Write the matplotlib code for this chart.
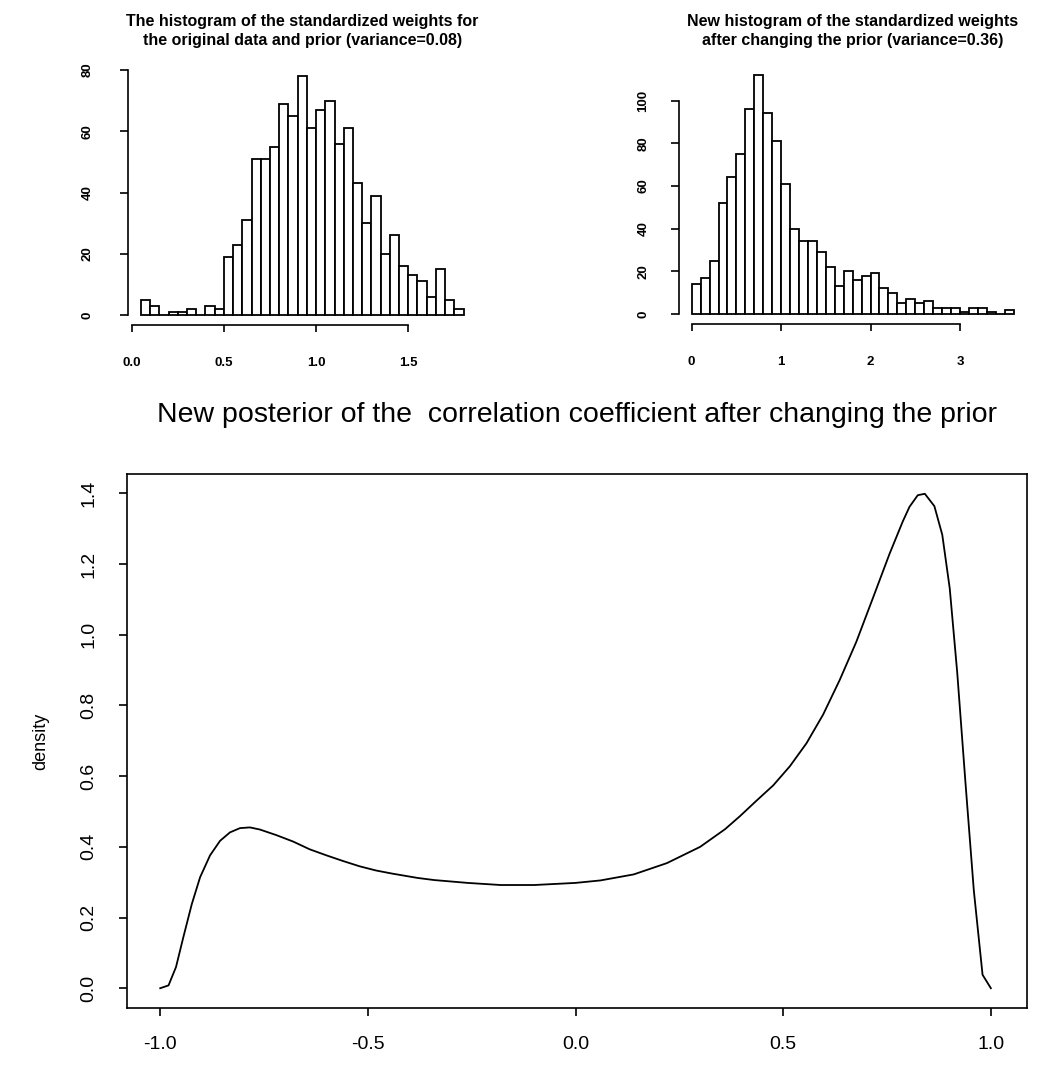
import numpy as np
import matplotlib
matplotlib.use("Agg")
import matplotlib.pyplot as plt

plt.rcParams['font.family'] = ['Liberation Sans', 'DejaVu Sans']

# histogram 1: standardized weights, original prior
w1_breaks = np.round(np.arange(0.05, 1.8001, 0.05), 2)
w1_counts = [5, 3, 0, 1, 1, 2, 0, 3, 2, 19, 23, 31, 51, 51, 55, 69, 65, 78, 61,
             67, 70, 56, 61, 43, 30, 39, 20, 26, 16, 13, 11, 6, 15, 5, 2]
w1_xticks = [0.0, 0.5, 1.0, 1.5]
w1_yticks = [0, 20, 40, 60, 80]

# histogram 2: standardized weights, new prior
w2_breaks = np.round(np.arange(0.0, 3.6001, 0.1), 1)
w2_counts = [14, 17, 25, 52, 64, 75, 96, 112, 94, 81, 61, 40, 34, 34, 29, 22, 13, 20,
             16, 18, 19, 12, 10, 5, 7, 5, 6, 3, 3, 3, 1, 3, 3, 1, 0, 2]
w2_xticks = [0, 1, 2, 3]
w2_yticks = [0, 20, 40, 60, 80, 100]

# posterior density of the correlation coefficient
rho = [-1.0, -0.98, -0.962, -0.944, -0.924, -0.904, -0.88, -0.856, -0.832, -0.808,
       -0.784, -0.76, -0.72, -0.68, -0.64, -0.60, -0.56, -0.52, -0.48, -0.44,
       -0.38, -0.34, -0.26, -0.18, -0.10, 0.0, 0.06, 0.14, 0.22, 0.30,
       0.36, 0.396, 0.436, 0.476, 0.516, 0.556, 0.596, 0.636, 0.676, 0.716,
       0.756, 0.788, 0.804, 0.824, 0.841, 0.864, 0.883, 0.901, 0.919, 0.939,
       0.959, 0.98, 1.0]
dens = [0.0, 0.008, 0.06, 0.146, 0.238, 0.314, 0.376, 0.417, 0.441, 0.453,
        0.455, 0.449, 0.433, 0.415, 0.393, 0.376, 0.36, 0.345, 0.333, 0.324,
        0.312, 0.306, 0.298, 0.292, 0.292, 0.298, 0.305, 0.322, 0.354, 0.40,
        0.45, 0.487, 0.531, 0.574, 0.628, 0.693, 0.774, 0.872, 0.98, 1.104,
        1.229, 1.321, 1.362, 1.395, 1.399, 1.364, 1.283, 1.131, 0.893, 0.579,
        0.276, 0.038, 0.0]
rho_ticks = [-1.0, -0.5, 0.0, 0.5, 1.0]
dens_ticks = [0.0, 0.2, 0.4, 0.6, 0.8, 1.0, 1.2, 1.4]

W, H = 1048, 1065
PT = 100 / 72.0


def rect(l, t, r, b):
    return [l / W, 1 - b / H, (r - l) / W, (b - t) / H]


def r_lim(lo, hi):
    d = 0.04 * (hi - lo)
    return lo - d, hi + d


def hist_panel(ax, breaks, counts, xticks, yticks, xfmt, ylab_pad, title):
    breaks = np.asarray(breaks)
    ax.bar(breaks[:-1], counts, width=np.diff(breaks), align='edge',
           facecolor='white', edgecolor='black', linewidth=1.3)
    ax.set_xlim(*r_lim(breaks[0], breaks[-1]))
    ax.set_ylim(*r_lim(0, max(counts)))
    for s in ['top', 'right']:
        ax.spines[s].set_visible(False)
    ax.spines['left'].set_bounds(yticks[0], yticks[-1])
    ax.spines['bottom'].set_bounds(xticks[0], xticks[-1])
    for s in ['left', 'bottom']:
        ax.spines[s].set_linewidth(1.2)
    ax.set_xticks(xticks)
    ax.set_xticklabels([xfmt(v) for v in xticks])
    ax.set_yticks(yticks)
    ax.set_yticklabels([str(v) for v in yticks], rotation=90, va='center', ha='center')
    ax.tick_params(axis='x', length=5, width=1.2, pad=18, labelsize=9.5)
    ax.tick_params(axis='y', length=6, width=1.2, pad=ylab_pad, labelsize=9.5)
    for lab in ax.get_xticklabels() + ax.get_yticklabels():
        lab.set_fontweight('bold')
    x0, x1 = ax.get_position().x0, ax.get_position().x1
    fig.text((x0 + x1) / 2, 1 - 31 / H, title, ha='center', va='center',
             fontsize=11.5, fontweight='bold', linespacing=1.35)


fig = plt.figure(figsize=(W / 100, H / 100), dpi=100)

ax1 = fig.add_axes(rect(128, 66.6, 476.5, 324.6))
hist_panel(ax1, w1_breaks, w1_counts, w1_xticks, w1_yticks,
           lambda v: f"{v:.1f}", 32 / PT,
           "The histogram of the standardized weights for\nthe original data and prior (variance=0.08)")

ax2 = fig.add_axes(rect(678.8, 65.5, 1026.5, 323.6))
hist_panel(ax2, w2_breaks, w2_counts, w2_xticks, w2_yticks,
           lambda v: f"{v:d}", 27 / PT,
           "New histogram of the standardized weights\nafter changing the prior (variance=0.36)")

ax3 = fig.add_axes(rect(127, 474, 1027, 1008))
ax3.plot(rho, dens, color='black', linewidth=1.3)
ax3.set_xlim(-1.08, 1.087)
ax3.set_ylim(*r_lim(min(dens), max(dens)))
ax3.set_xticks(rho_ticks)
ax3.set_xticklabels([f"{v:.1f}" for v in rho_ticks])
ax3.set_yticks(dens_ticks)
ax3.set_yticklabels([f"{v:.1f}" for v in dens_ticks], rotation=90, va='center', ha='center')
ax3.tick_params(axis='x', length=6, width=1.2, pad=14, labelsize=14)
ax3.tick_params(axis='y', length=6, width=1.2, pad=30 / PT, labelsize=14)
for s in ax3.spines.values():
    s.set_linewidth(1.2)
ax3.set_ylabel("density", fontsize=13, labelpad=22)
fig.text(0.5 * (ax3.get_position().x0 + ax3.get_position().x1), 1 - 415 / H,
         "New posterior of the  correlation coefficient after changing the prior",
         ha='center', va='center', fontsize=20.5)

fig.savefig("out.png", dpi=100)
